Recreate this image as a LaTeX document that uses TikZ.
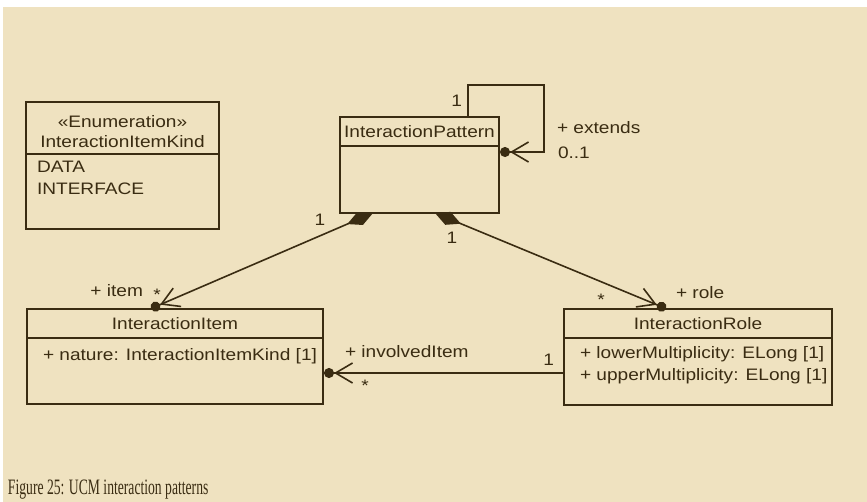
\documentclass[tikz,border=0pt]{standalone}
\usepackage{fontspec}
\setmainfont[FakeStretch=1.15]{Liberation Sans}
\newfontfamily\capfont[FakeStretch=0.62]{Liberation Serif}
\usetikzlibrary{positioning,arrows.meta}
\definecolor{paper}{HTML}{EFE2C0}
\definecolor{ink}{HTML}{3A2C12}
\tikzset{
  cls/.style={draw, minimum width=#1, minimum height=29pt},
  attr/.style={anchor=north west, align=left, font=\fontsize{16.6}{22.5}\selectfont},
  own/.style={-{Straight Barb[length=17pt,width=20pt] Circle[length=10pt,sep=1pt]}},
  comp/.style={{Diamond[length=28pt,width=14pt]}-{Straight Barb[length=17pt,width=20pt] Circle[length=10pt,sep=1pt]}}
}

\begin{document}
\begin{tikzpicture}[x=1pt,y=-1pt,color=ink,line width=1.6pt,
    every node/.style={inner sep=0pt,outer sep=0pt,font=\fontsize{16.6}{20}\selectfont}]
  \useasboundingbox (0,0) rectangle (867,502);
  \fill[paper] (3,7) rectangle (867,502);

  % classes
  \node[cls=193pt, minimum height=52pt, align=center] (enum) at (122.5,128) {\rule{0pt}{19pt}«Enumeration»\\InteractionItemKind};
  \node[cls=193pt, minimum height=75pt, below=0pt of enum] (enumb) {};
  \node[attr] (enuma) at ([shift={(11,7)}]enumb.north west) {DATA\\INTERFACE};

  \node[cls=159pt] (ip) at (419.5,131.5) {InteractionPattern};
  \node[cls=159pt, minimum height=67pt, below=0pt of ip] (ipb) {};

  \node[cls=296pt] (item) at (175,323.5) {InteractionItem};
  \node[cls=296pt, minimum height=66pt, below=0pt of item] (itemb) {};
  \node[attr] (itema) at ([shift={(16,10)}]itemb.north west) {+ nature: InteractionItemKind [1]};

  \node[cls=268pt] (role) at (698,323.5) {InteractionRole};
  \node[cls=268pt, minimum height=67pt, below=0pt of role] (roleb) {};
  \node[attr] (rolea) at ([shift={(16,8)}]roleb.north west) {+ lowerMultiplicity: ELong [1]\\+ upperMultiplicity: ELong [1]};

  % associations
  \draw[own] ([xshift=48.5pt]ip.north) -- ++(0,-32) node[midway, left=6pt] (ipone) {1}
    -- ++(76,0) |- ([yshift=27.5pt]ipb.east);
  \node[anchor=west] (ext) at ([shift={(58,-51.5)}]ipb.east) {+ extends};
  \node[anchor=west] (extm) at ([shift={(59,-26.5)}]ipb.east) {0..1};

  \draw[comp] ([xshift=-46.5pt]ipb.south) -- ([xshift=-25pt]item.north);
  \node (itemone) at ([shift={(-99.5,7)}]ipb.south) {1};
  \node[anchor=east] (itemrole) at ([shift={(-32,-18)}]item.north) {+ item};
  \node[anchor=base] (itemmult) at ([shift={(-18,-8)}]item.north) {*};

  \draw[comp] ([xshift=15.5pt]ipb.south) -- ([xshift=-31pt]role.north);
  \node (roleone) at ([shift={(32.5,25)}]ipb.south) {1};
  \node[anchor=base] (rolemult) at ([shift={(-97,-3)}]role.north) {*};
  \node[anchor=west] (rolerole) at ([shift={(-22,-16)}]role.north) {+ role};

  \coordinate (inv) at ([yshift=-1.5pt]roleb.west);
  \draw[own] (inv) -- (inv -| itemb.east);
  \node[anchor=base east] (invone) at ([shift={(-10,-5.5)}]roleb.west) {1};
  \node[anchor=base west] (invrole) at ([shift={(22,-13)}]itemb.east) {+ involvedItem};
  \node[anchor=base] (invmult) at ([shift={(42,20)}]itemb.east) {*};

  \node[anchor=base west, font=\capfont\fontsize{22}{24}\selectfont] (cap) at (8,494) {Figure 25: UCM interaction patterns};
\end{tikzpicture}
\end{document}
